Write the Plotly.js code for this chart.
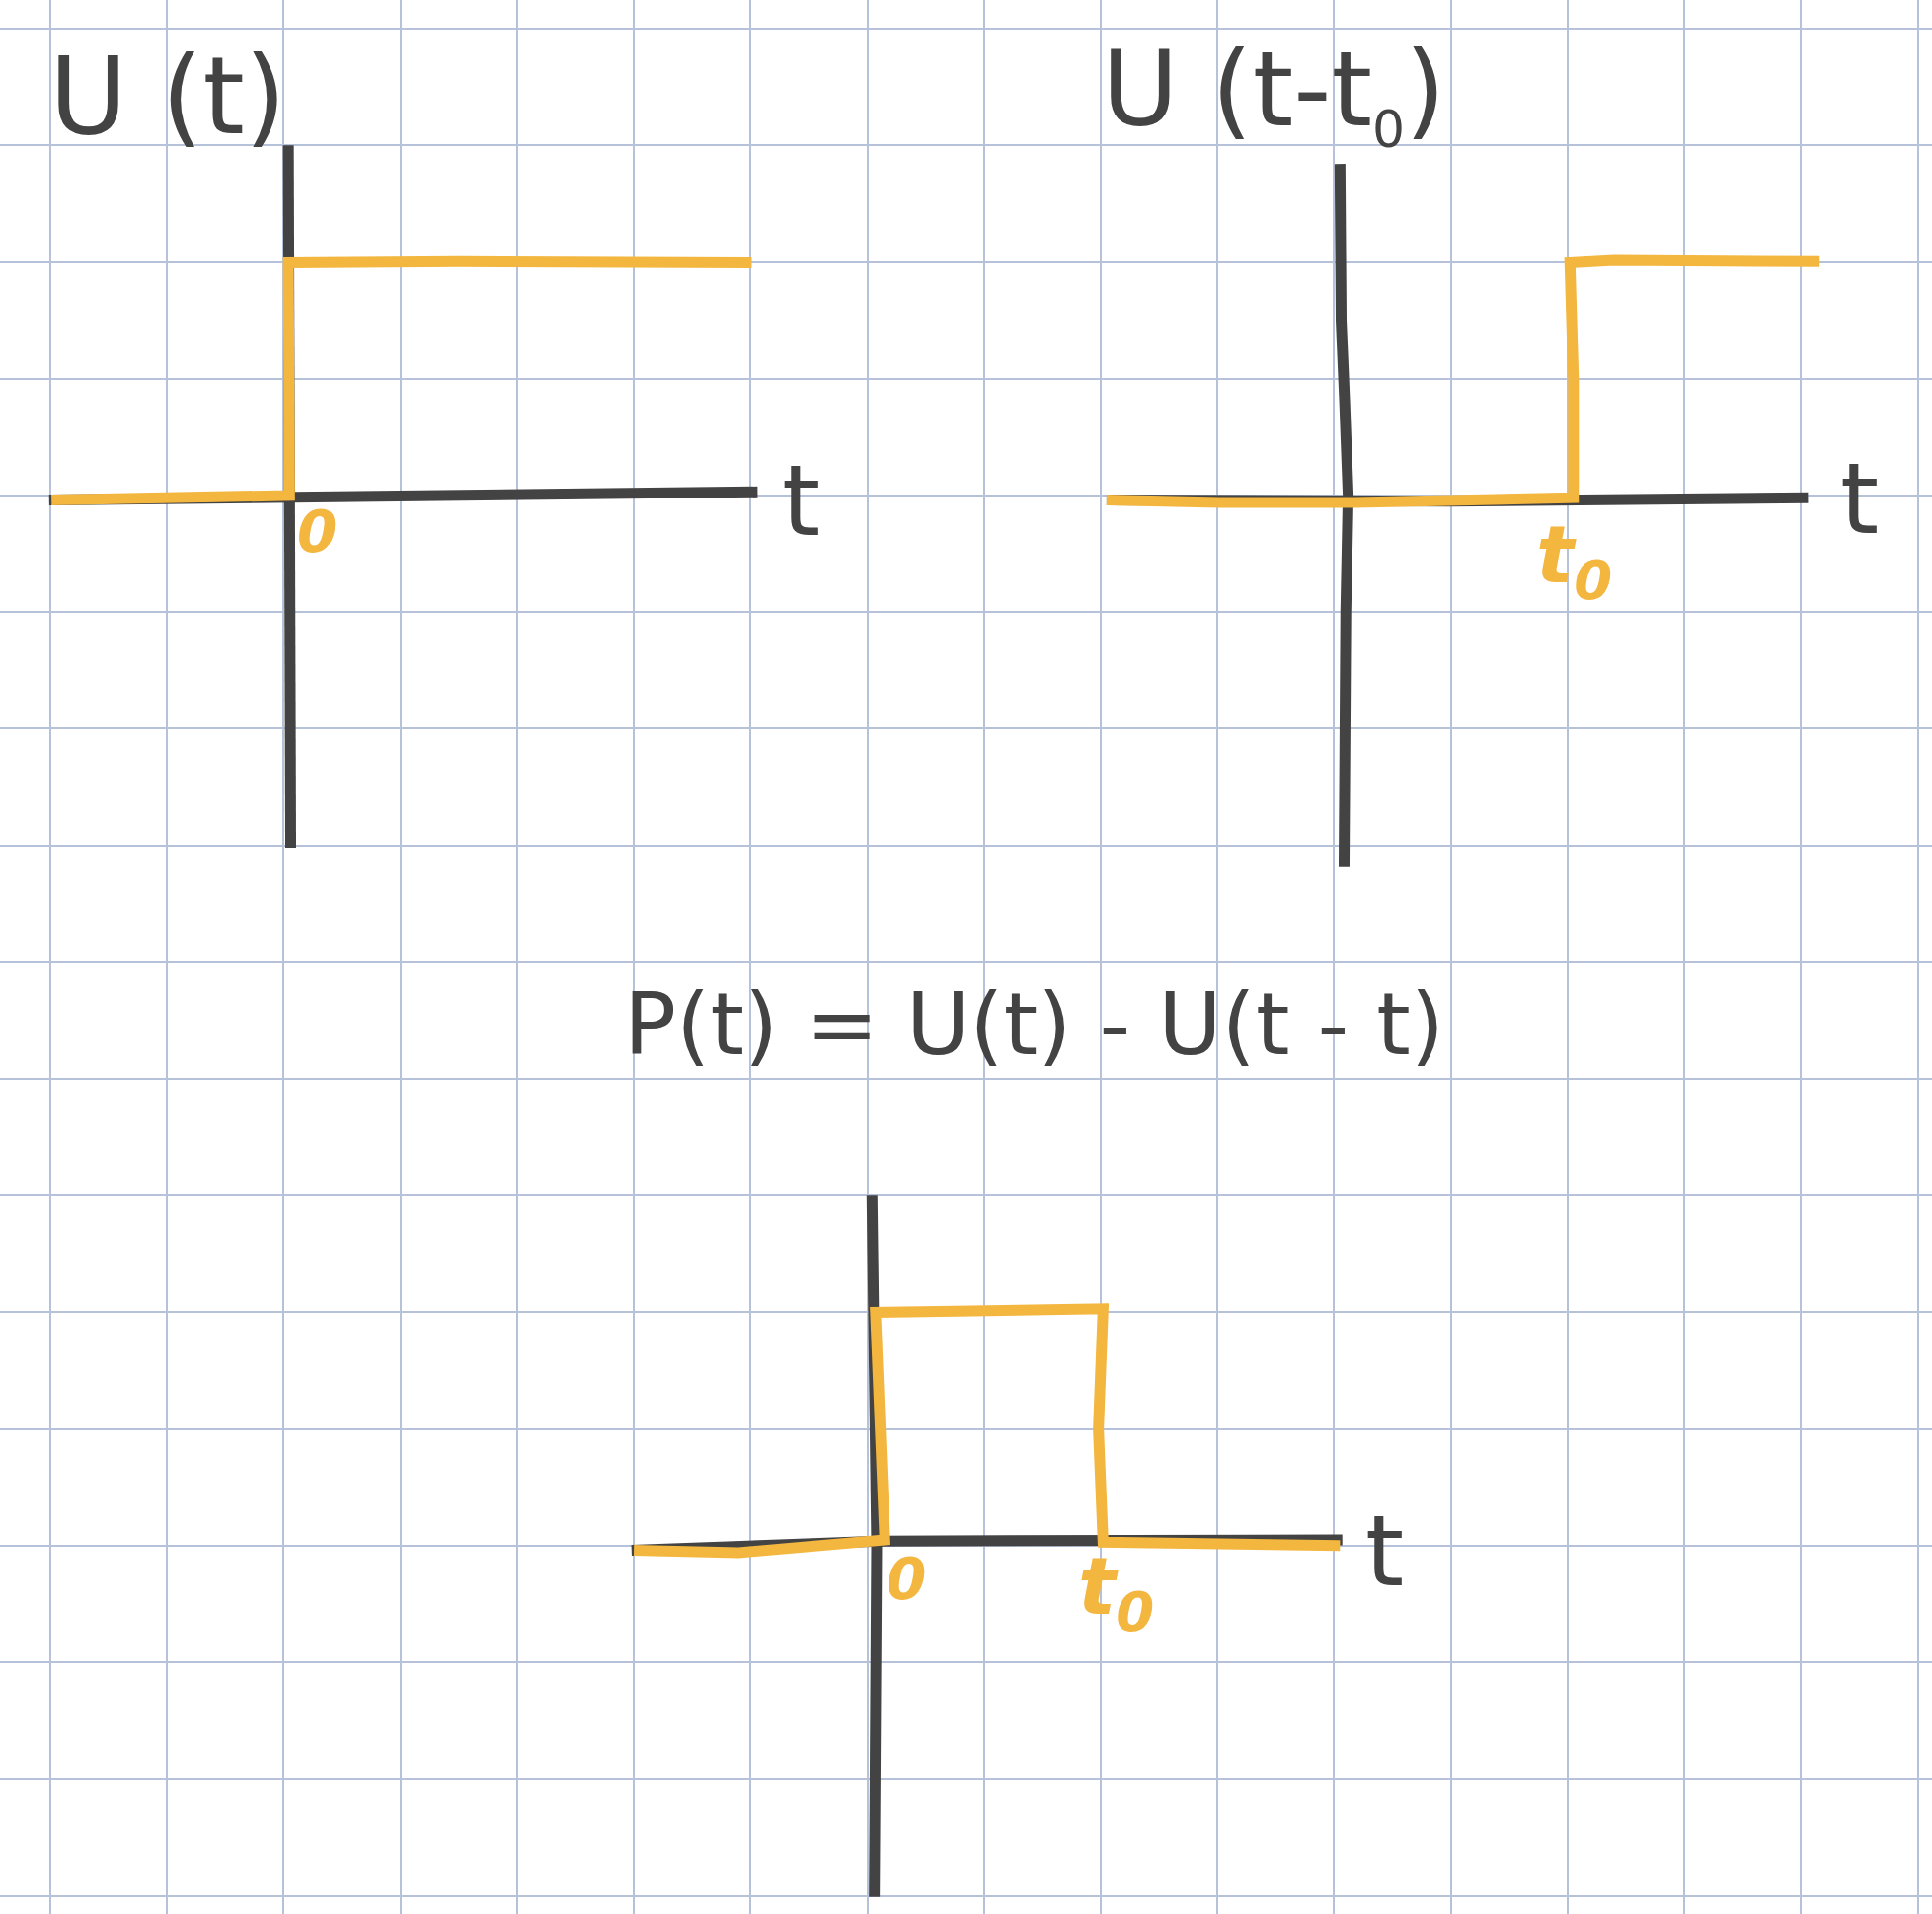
<!DOCTYPE html>
<html>
<head>
<meta charset="utf-8">
<script src="https://cdn.plot.ly/plotly-3.0.1.min.js"></script>
<style>html,body{margin:0;padding:0;background:#fff;}#chart{width:1957px;height:1939px;}</style>
</head>
<body>
<div id="chart"></div>
<script>
// ---------- data (grid units, each panel relative to its own origin) ----------
// Panel 1: U(t)
const u1AxisT_x = [-2.01, 1.0, 4.06];
const u1AxisT_y = [-0.04, 0.0, 0.03];
const u1AxisV_x = [0.04, 0.06];
const u1AxisV_y = [3.0, -3.02];
const u1Step_x = [-1.99, 0.05, 0.04, 1.5, 4.01];
const u1Step_y = [-0.04, 0.0, 2.0, 2.01, 2.0];

// Panel 2: U(t - t0)
const u2AxisT_x = [-1.95, 1.0, 4.06];
const u2AxisT_y = [-0.04, -0.05, -0.02];
const u2AxisV_x = [0.05, 0.06, 0.09, 0.12, 0.1, 0.085];
const u2AxisV_y = [2.84, 1.5, 0.8, 0.0, -1.0, -3.18];
const u2Step_x = [-1.95, -0.98, 0.18, 2.05, 2.05, 2.02, 2.4, 4.16];
const u2Step_y = [-0.04, -0.06, -0.06, -0.02, 1.0, 2.0, 2.02, 2.01];

// Panel 3: P(t) = U(t) - U(t - t0)
const pAxisT_x = [-2.02, 0.1, 4.07];
const pAxisT_y = [-0.04, 0.04, 0.05];
const pAxisV_x = [0.04, 0.08, 0.06];
const pAxisV_y = [3.0, 0.0, -3.01];
const pStep_x = [-2.0, -1.1, 0.15, 0.07, 2.02, 1.98, 2.02, 4.05];
const pStep_y = [-0.04, -0.06, 0.05, 2.0, 2.03, 1.0, 0.03, 0.0];

// text labels
const titles = ["U (t)", "U (t-t<sub><span style='font-size:52px'>0</span></sub>)", "P(t) = U(t) - U(t - t)"];
const axisLabel = "t";
const zeroLabel = "0";
const t0Label = "t<sub>0</sub>";

// ---------- layout geometry ----------
const W = 1957, H = 1939, X0 = 51, Y0 = 29, SP = 118.22;
const origins = [[2, 4], [11, 4], [7, 13]]; // [column, row] of each panel origin on the grid
const px = (i, t) => t.map(v => v + origins[i][0]);
const py = (i, v) => v.map(w => w - origins[i][1]);

const BLACK = '#434343', ORANGE = '#f3b63e';
const LW = 11;

function line(i, x, y, color) {
  return {x: px(i, x), y: py(i, y), type: 'scatter', mode: 'lines',
          line: {color: color, width: LW, shape: 'linear'}, hoverinfo: 'skip', showlegend: false};
}

const data = [
  line(0, u1AxisT_x, u1AxisT_y, BLACK), line(0, u1AxisV_x, u1AxisV_y, BLACK), line(0, u1Step_x, u1Step_y, ORANGE),
  line(1, u2AxisT_x, u2AxisT_y, BLACK), line(1, u2AxisV_x, u2AxisV_y, BLACK), line(1, u2Step_x, u2Step_y, ORANGE),
  line(2, pAxisT_x, pAxisT_y, BLACK), line(2, pAxisV_x, pAxisV_y, BLACK), line(2, pStep_x, pStep_y, ORANGE)
];

const FONT = '"DejaVu Sans", "Liberation Sans", sans-serif';

function ann(i, text, x, y, size, color) {
  return {text: text, x: x + origins[i][0], y: y - origins[i][1], xref: 'x', yref: 'y', showarrow: false,
          xanchor: 'center', yanchor: 'middle', font: {family: FONT, size: size, color: color}};
}

const annotations = [
  ann(0, titles[0], -0.99, 3.42, 108, BLACK),
  ann(1, titles[1], -0.52, 3.44, 106, BLACK),
  ann(2, titles[2], 1.43, 4.47, 88, BLACK),
  ann(0, axisLabel, 4.43, -0.05, 100, BLACK),
  ann(1, axisLabel, 4.5, -0.03, 100, BLACK),
  ann(2, axisLabel, 4.43, -0.05, 100, BLACK),
  ann(0, '<b><i>' + zeroLabel + '</i></b>', 0.28, -0.31, 58, ORANGE),
  ann(1, '<b><i>' + t0Label + '</i></b>', 2.06, -0.56, 80, ORANGE),
  ann(2, '<b><i>' + zeroLabel + '</i></b>', 0.33, -0.29, 58, ORANGE),
  ann(2, '<b><i>' + t0Label + '</i></b>', 2.13, -0.4, 80, ORANGE)
];

const layout = {
  width: W, height: H,
  margin: {l: 0, r: 0, t: 0, b: 0, pad: 0},
  paper_bgcolor: '#ffffff', plot_bgcolor: '#ffffff',
  showlegend: false,
  xaxis: {range: [-X0 / SP, (W - X0) / SP], tick0: 0, dtick: 1, showgrid: true, gridcolor: '#b6c2da',
          gridwidth: 2, zeroline: false, showticklabels: false, ticks: '', showline: false, fixedrange: true},
  yaxis: {range: [-(H - Y0) / SP, Y0 / SP], tick0: 0, dtick: 1, showgrid: true, gridcolor: '#b6c2da',
          gridwidth: 2, zeroline: false, showticklabels: false, ticks: '', showline: false, fixedrange: true},
  annotations: annotations
};

Plotly.newPlot('chart', data, layout, {displayModeBar: false, staticPlot: true});
</script>
</body>
</html>
